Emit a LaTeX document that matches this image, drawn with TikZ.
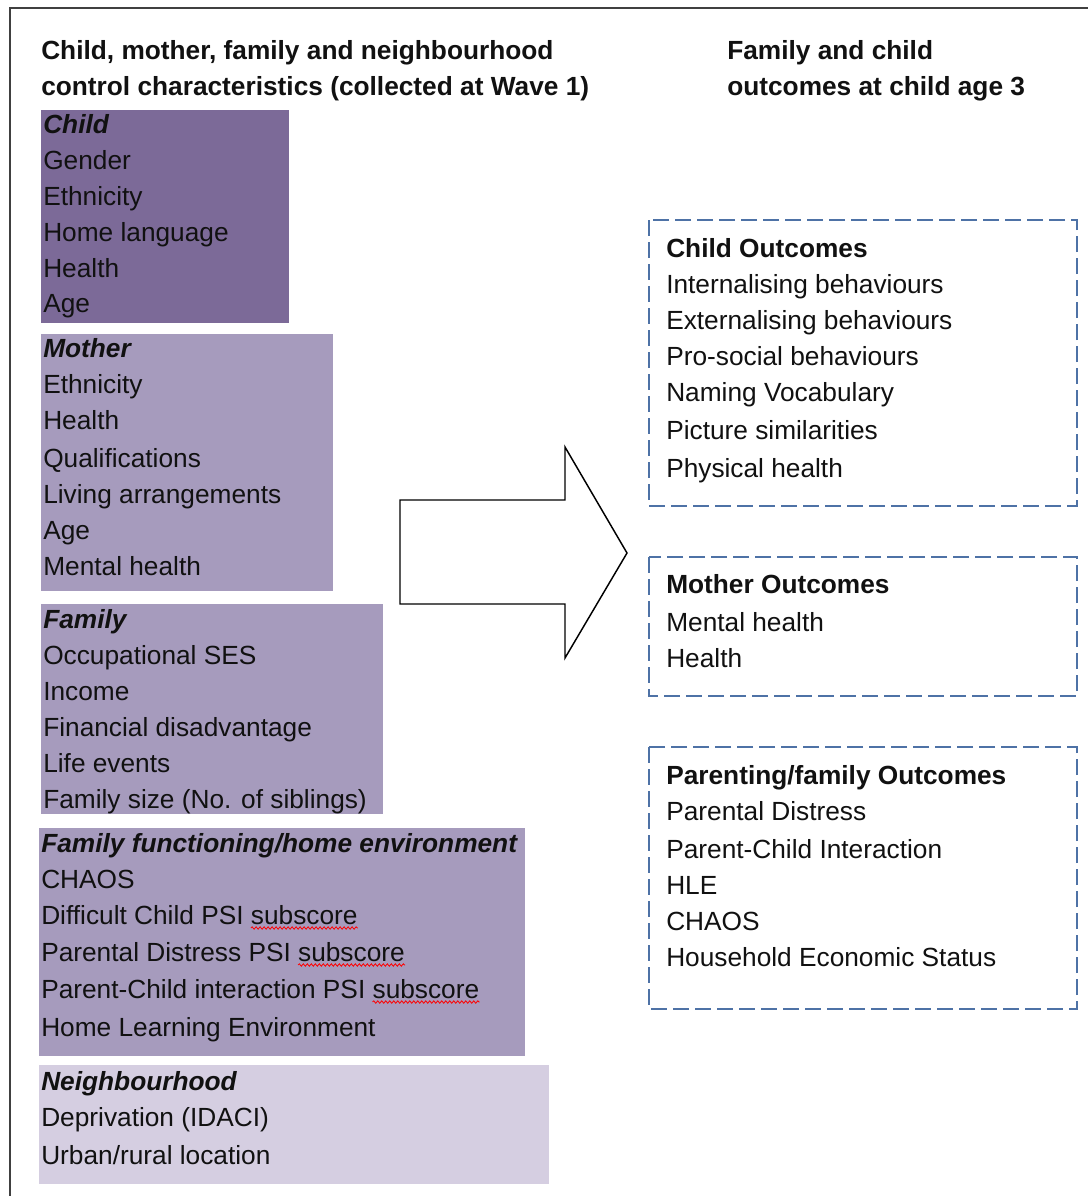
\documentclass[tikz,border=0pt]{standalone}
\usepackage{fontspec}
\setmainfont{Liberation Sans}
\usetikzlibrary{calc,decorations.pathmorphing}
\definecolor{childfill}{HTML}{7C6A98}
\definecolor{midfill}{HTML}{A69BBD}
\definecolor{nbfill}{HTML}{D5CEE1}
\definecolor{dashblue}{HTML}{4E72A6}
\definecolor{framecol}{HTML}{404040}
\definecolor{textcol}{HTML}{111111}
\begin{document}
\begin{tikzpicture}[x=0.75pt,y=-0.75pt,
  txt/.style={anchor=base west, inner sep=0pt, text=textcol, font=\fontsize{19.7}{24}\selectfont},
  hd/.style={txt, font=\fontsize{19.7}{24}\selectfont\bfseries\itshape},
  bhd/.style={txt, font=\fontsize{19.7}{24}\selectfont\bfseries},
  dashbox/.style={draw=dashblue, line width=1.6pt, dash pattern=on 12pt off 4.5pt},
  spell/.style={draw=red, line width=0.6pt, decorate, decoration={snake, amplitude=0.9pt, segment length=3pt}}]
\useasboundingbox (0,0) rectangle (1088,1196);
\fill[white] (0,0) rectangle (1088,1196);
% outer frame
\draw[framecol, line width=1.5pt] (10,1196) -- (10,8) -- (1088,8);

% titles
\node[bhd] (t1) at (41,59) {Child, mother, family and neighbourhood};
\node[bhd] (t2) at (41,95) {control characteristics (collected at Wave 1)};
\node[bhd] (t3) at (727,59) {Family and child};
\node[bhd] (t4) at (727,95) {outcomes\ at child age 3};

% left boxes
\fill[childfill] (41,110) rectangle (289,323);
\fill[midfill] (41,334) rectangle (333,591);
\fill[midfill] (41,604) rectangle (383,814);
\fill[midfill] (39,828) rectangle (525,1056);
\fill[nbfill] (39,1065) rectangle (549,1184);

% child
\node[hd] (c0) at (43,133) {Child};
\node[txt] (c1) at (43,169) {Gender};
\node[txt] (c2) at (43,205) {Ethnicity};
\node[txt] (c3) at (43,241) {Home language};
\node[txt] (c4) at (43,277) {Health};
\node[txt] (c5) at (43,312) {Age};
% mother
\node[hd] (m0) at (43,357) {Mother};
\node[txt] (m1) at (43,393) {Ethnicity};
\node[txt] (m2) at (43,429) {Health};
\node[txt] (m3) at (43,467) {Qualifications};
\node[txt] (m4) at (43,503) {Living arrangements};
\node[txt] (m5) at (43,539) {Age};
\node[txt] (m6) at (43,575) {Mental health};
% family
\node[hd] (f0) at (43,628) {Family};
\node[txt] (f1) at (43,664) {Occupational SES};
\node[txt] (f2) at (43,700) {Income};
\node[txt] (f3) at (43,736) {Financial disadvantage};
\node[txt] (f4) at (43,772) {Life events};
\node[txt] (f5) at (43,808) {Family size (No. of siblings)};
% family functioning
\node[hd] (h0) at (41,852) {Family functioning/home environment};
\node[txt] (h1) at (41,888) {CHAOS};
\node[txt] (h2) at (41,924) {Difficult Child PSI subscore};
\node[txt] (h3) at (41,961) {Parental Distress PSI subscore};
\node[txt] (h4) at (41,998) {Parent-Child\ interaction PSI subscore};
\node[txt] (h5) at (41,1036) {Home Learning Environment};
\draw[spell] ($(h2.base east)+(-107,4)$) -- ($(h2.base east)+(0,4)$);
\draw[spell] ($(h3.base east)+(-107,4)$) -- ($(h3.base east)+(0,4)$);
\draw[spell] ($(h4.base east)+(-107,4)$) -- ($(h4.base east)+(0,4)$);
% neighbourhood
\node[hd] (n0) at (41,1090) {Neighbourhood};
\node[txt] (n1) at (41,1126) {Deprivation (IDACI)};
\node[txt] (n2) at (41,1164) {Urban/rural location};

% big arrow
\draw[black, line width=1.1pt, line join=miter, fill=white]
  (400,500) -- (565,500) -- (565,447) -- (627,553) -- (565,658) -- (565,604) -- (400,604) -- cycle;

% outcome boxes
\draw[dashbox] (649,220) rectangle (1077,506);
\draw[dashbox] (649,557) rectangle (1077,696);
\draw[dashbox] (649,747) rectangle (1077,1009);

\node[bhd] (o0) at (666,257) {Child Outcomes};
\node[txt] (o1) at (666,293) {Internalising\ behaviours};
\node[txt] (o2) at (666,329) {Externalising behaviours};
\node[txt] (o3) at (666,365) {Pro-social behaviours};
\node[txt] (o4) at (666,401) {Naming Vocabulary};
\node[txt] (o5) at (666,439) {Picture similarities};
\node[txt] (o6) at (666,477) {Physical health};

\node[bhd] (p0) at (666,593) {Mother Outcomes};
\node[txt] (p1) at (666,631) {Mental health};
\node[txt] (p2) at (666,667) {Health};

\node[bhd] (q0) at (666,784) {Parenting/family\ Outcomes};
\node[txt] (q1) at (666,820) {Parental Distress};
\node[txt] (q2) at (666,858) {Parent-Child\ Interaction};
\node[txt] (q3) at (666,894) {HLE};
\node[txt] (q4) at (666,930) {CHAOS};
\node[txt] (q5) at (666,966) {Household Economic Status};
\end{tikzpicture}
\end{document}
